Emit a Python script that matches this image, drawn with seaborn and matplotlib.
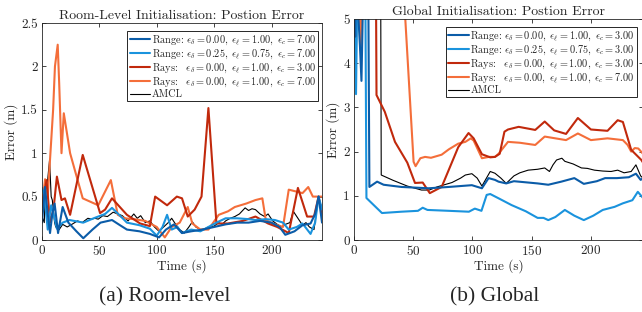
import numpy as np
import pandas as pd
import seaborn as sns
import matplotlib
matplotlib.use("Agg")
import matplotlib.pyplot as plt
from matplotlib.ticker import FuncFormatter

# ---- data -----------------------------------------------------------------
# (a) room-level initialisation
room_range1_t = [0, 2.6, 5, 7, 9, 11, 14, 18, 23, 30,
                 36, 44, 51, 61, 68, 74, 85, 94, 102, 108,
                 115, 122, 130, 140, 150, 160, 170, 180, 190, 200,
                 207, 212, 220, 227, 234, 238, 241, 244]
room_range1_e = [0.2, 0.61, 0.3, 0.08, 0.3, 0.42, 0.08, 0.38, 0.2, 0.1,
                 0.02, 0.12, 0.2, 0.23, 0.17, 0.12, 0.1, 0.07, 0.03, 0.12,
                 0.18, 0.08, 0.1, 0.12, 0.15, 0.18, 0.2, 0.2, 0.22, 0.2,
                 0.15, 0.06, 0.1, 0.17, 0.19, 0.3, 0.5, 0.2]

room_range2_t = [0, 2, 5, 8, 10, 13, 18, 24, 36, 45,
                 55, 61, 68, 74, 85, 94, 100, 105, 109, 113,
                 118, 122, 130, 138, 145, 152, 160, 170, 180, 186,
                 195, 203, 210, 215, 222, 227, 234, 238, 241, 244]
room_range2_e = [0.6, 0.53, 0.12, 0.4, 0.3, 0.13, 0.2, 0.23, 0.2, 0.25,
                 0.3, 0.37, 0.28, 0.2, 0.17, 0.13, 0.05, 0.15, 0.29, 0.12,
                 0.15, 0.08, 0.12, 0.1, 0.15, 0.2, 0.25, 0.25, 0.24, 0.23,
                 0.24, 0.23, 0.2, 0.12, 0.15, 0.19, 0.07, 0.2, 0.5, 0.35]

room_rays3_t = [0, 4, 7, 10, 13, 17, 20, 24.5, 35.5, 50.6,
                55, 61, 74, 85.5, 94, 98.6, 109, 117.5, 122, 127,
                133, 139, 145, 152, 162, 175, 186, 197, 205, 215,
                223, 231, 237, 241, 244]
room_rays3_e = [0.38, 0.69, 0.2, 0.35, 0.73, 0.46, 0.48, 0.29, 0.98, 0.31,
                0.35, 0.48, 0.29, 0.19, 0.16, 0.5, 0.4, 0.5, 0.48, 0.27,
                0.35, 0.5, 1.52, 0.19, 0.19, 0.22, 0.27, 0.19, 0.15, 0.08,
                0.6, 0.27, 0.27, 0.5, 0.3]

room_rays7_t = [0, 2.7, 5, 9.7, 11.3, 13.7, 15, 17, 19, 24.5,
                35.5, 49, 60, 66, 72, 80, 90, 100, 107, 113,
                120, 127, 131, 138, 145, 154, 162, 168, 178, 186,
                192, 195, 201, 210, 215, 227, 232, 236, 244]
room_rays7_e = [0.4, 0.7, 0.5, 1.5, 2.0, 2.25, 1.8, 1.0, 1.46, 1.0,
                0.48, 0.4, 0.69, 0.29, 0.25, 0.24, 0.22, 0.15, 0.03, 0.15,
                0.2, 0.38, 0.19, 0.12, 0.12, 0.29, 0.33, 0.38, 0.42, 0.46,
                0.48, 0.23, 0.19, 0.15, 0.58, 0.54, 0.61, 0.5, 0.5]

room_amcl_t = [0, 2, 3, 5, 6.6, 8, 9, 11, 12, 15,
               18, 22, 26, 31, 35, 40, 43, 46, 49, 53,
               57, 62, 66, 70, 75, 80, 83, 86, 90, 94,
               98, 102, 106, 110, 113, 116, 120, 124, 128, 131,
               134, 138, 142, 145, 150, 154, 157, 160, 164, 168,
               172, 177, 180, 183, 186, 190, 194, 197, 201, 205,
               209, 212, 216, 219, 223, 227, 230, 233, 237, 241,
               244]
room_amcl_e = [0.27, 0.2, 0.6, 0.7, 0.92, 0.5, 0.46, 0.2, 0.15, 0.12,
               0.18, 0.15, 0.18, 0.22, 0.2, 0.25, 0.24, 0.25, 0.24, 0.28,
               0.27, 0.32, 0.3, 0.28, 0.22, 0.3, 0.25, 0.28, 0.2, 0.22,
               0.15, 0.1, 0.15, 0.2, 0.25, 0.19, 0.12, 0.08, 0.15, 0.21,
               0.15, 0.12, 0.13, 0.15, 0.16, 0.2, 0.18, 0.22, 0.25, 0.27,
               0.3, 0.37, 0.34, 0.36, 0.35, 0.3, 0.27, 0.3, 0.22, 0.18,
               0.15, 0.18, 0.2, 0.33, 0.25, 0.17, 0.2, 0.15, 0.12, 0.5,
               0.35]

# (b) global initialisation (values above 5 are clipped by the axis)
glob_range1_t = [0, 1, 2, 3, 5, 6.3, 8, 12, 13, 19.5,
                 25, 40, 63, 80, 99.5, 108, 113.6, 119, 122, 128.5,
                 135, 147, 155, 164, 175, 186, 194, 205, 212, 222,
                 232, 238, 242, 244]
glob_range1_e = [6, 4.6, 6, 5.4, 4.4, 3.6, 6, 6, 1.2, 1.32,
                 1.25, 1.2, 1.17, 1.2, 1.24, 1.17, 1.4, 1.36, 1.32, 1.28,
                 1.33, 1.3, 1.28, 1.25, 1.32, 1.4, 1.27, 1.33, 1.4, 1.4,
                 1.42, 1.5, 1.36, 1.4]

glob_range2_t = [0, 1.7, 3, 9.5, 10.5, 23.6, 40, 54, 58, 62,
                 80, 97, 102, 107.6, 112, 115, 123, 133, 145, 155,
                 160, 164, 170, 178, 186, 194, 202, 210, 220, 227,
                 235, 239.6, 244]
glob_range2_e = [6, 3.3, 6, 6, 0.95, 0.61, 0.64, 0.66, 0.73, 0.68,
                 0.66, 0.64, 0.71, 0.66, 1.02, 1.04, 0.93, 0.79, 0.65, 0.5,
                 0.5, 0.45, 0.52, 0.68, 0.55, 0.45, 0.55, 0.68, 0.75, 0.83,
                 0.9, 1.09, 0.95]

glob_rays3_t = [0, 18.5, 19, 26, 34.6, 45, 51.5, 58, 64, 74,
                88, 96.7, 101, 108, 115, 119, 123, 127, 130, 139,
                153, 161, 169, 179, 189, 200, 214, 222.6, 227, 234,
                242.6, 244]
glob_rays3_e = [6, 6, 3.28, 2.9, 2.22, 1.75, 1.29, 1.3, 1.06, 1.2,
                2.1, 2.42, 2.3, 1.94, 1.87, 1.88, 1.95, 2.45, 2.5, 2.56,
                2.49, 2.68, 2.48, 2.4, 2.76, 2.5, 2.47, 2.71, 2.67, 2.04,
                1.81, 1.75]

glob_rays7_t = [0, 4, 5.5, 7, 42.5, 43.3, 50.3, 52, 56, 60,
                65, 74, 80, 88, 94, 98.6, 101, 108, 114, 119,
                122, 130, 140, 153, 161, 170, 179, 189, 200, 214,
                227, 231, 234, 237, 240, 244]
glob_rays7_e = [6, 6, 4.3, 6, 6, 5.0, 1.77, 1.67, 1.85, 1.88,
                1.86, 1.93, 2.05, 2.18, 2.22, 2.3, 2.25, 1.85, 1.88, 1.88,
                1.95, 2.22, 2.2, 2.15, 2.34, 2.3, 2.26, 2.41, 2.26, 2.3,
                2.26, 2.15, 2.0, 2.08, 2.07, 1.95]

glob_amcl_t = [0, 2, 3, 22.5, 23, 33, 45, 57, 63.5, 70,
               82.7, 90, 94, 99.5, 104, 108, 115, 119, 124, 128.5,
               135, 140, 147, 155, 161, 165, 168, 171, 175.5, 178,
               185, 192, 197, 203, 210, 217, 222.6, 228, 234, 238,
               242, 244]
glob_amcl_e = [6, 4.25, 6, 6, 1.47, 1.35, 1.22, 1.13, 1.13, 1.2,
               1.3, 1.4, 1.47, 1.5, 1.4, 1.22, 1.55, 1.51, 1.4, 1.28,
               1.45, 1.52, 1.58, 1.6, 1.63, 1.55, 1.7, 1.81, 1.85, 1.78,
               1.72, 1.63, 1.62, 1.58, 1.56, 1.55, 1.58, 1.52, 1.55, 1.7,
               1.45, 1.4]

room_labels = [r"Range: $\epsilon_\delta=0.00,\ \epsilon_\ell=1.00,\ \epsilon_c=7.00$",
               r"Range: $\epsilon_\delta=0.25,\ \epsilon_\ell=0.75,\ \epsilon_c=7.00$",
               r"Rays:$\quad\epsilon_\delta=0.00,\ \epsilon_\ell=1.00,\ \epsilon_c=3.00$",
               r"Rays:$\quad\epsilon_\delta=0.00,\ \epsilon_\ell=1.00,\ \epsilon_c=7.00$",
               "AMCL"]
glob_labels = [r"Range: $\epsilon_\delta=0.00,\ \epsilon_\ell=1.00,\ \epsilon_c=3.00$",
               r"Range: $\epsilon_\delta=0.25,\ \epsilon_\ell=0.75,\ \epsilon_c=3.00$",
               r"Rays:$\quad\epsilon_\delta=0.00,\ \epsilon_\ell=1.00,\ \epsilon_c=3.00$",
               r"Rays:$\quad\epsilon_\delta=0.00,\ \epsilon_\ell=1.00,\ \epsilon_c=7.00$",
               "AMCL"]

colors = ["#0b5ca8", "#1a93dd", "#c1290c", "#f46e3a", "black"]
widths = [1.5, 1.5, 1.5, 1.5, 0.8]

# ---- style ----------------------------------------------------------------
sns.set_style("ticks")
plt.rcParams.update({
    "font.family": "cmr10",
    "mathtext.fontset": "cm",
    "axes.formatter.use_mathtext": True,
    "axes.edgecolor": "#262626",
    "axes.linewidth": 0.6,
    "xtick.direction": "in",
    "ytick.direction": "in",
    "xtick.top": True,
    "ytick.right": True,
    "xtick.color": "#262626",
    "ytick.color": "#262626",
    "xtick.major.size": 3,
    "ytick.major.size": 3,
    "xtick.major.width": 0.6,
    "ytick.major.width": 0.6,
})

fig = plt.figure(figsize=(6.42, 3.12), dpi=100)
ax_a = fig.add_axes([0.0654, 0.2308, 0.4362, 0.6955])
ax_b = fig.add_axes([0.5514, 0.2308, 0.4502, 0.7083])

room = [(room_range1_t, room_range1_e), (room_range2_t, room_range2_e),
        (room_rays3_t, room_rays3_e), (room_rays7_t, room_rays7_e),
        (room_amcl_t, room_amcl_e)]
glob = [(glob_range1_t, glob_range1_e), (glob_range2_t, glob_range2_e),
        (glob_rays3_t, glob_rays3_e), (glob_rays7_t, glob_rays7_e),
        (glob_amcl_t, glob_amcl_e)]

fmt = FuncFormatter(lambda v, p: "%g" % v)

for ax, series, labels, ymax, title, anchor in [
        (ax_a, room, room_labels, 2.5, "Room-Level Initialisation: Postion Error", (0.986, 0.963)),
        (ax_b, glob, glob_labels, 5, "Global Initialisation: Postion Error", (0.979, 0.964))]:
    # draw in reverse so blue ends up on top like the reference
    for (t, e), lab, c, w in reversed(list(zip(series, labels, colors, widths))):
        df = pd.DataFrame({"Time": t, "Error": e})
        sns.lineplot(data=df, x="Time", y="Error", ax=ax, color=c, lw=w,
                     label=lab, estimator=None, sort=False)
    ax.set_xlim(0, 244)
    ax.set_ylim(0, ymax)
    ax.set_xticks([0, 50, 100, 150, 200])
    ax.yaxis.set_major_formatter(fmt)
    ax.tick_params(labelsize=9.5, pad=3)
    ax.set_xlabel("Time (s)", fontsize=9.5, labelpad=1)
    ax.set_ylabel("Error (m)", fontsize=9.5, labelpad=2)
    ax.set_title(title, fontsize=10, pad=3)
    h, l = ax.get_legend_handles_labels()
    leg = ax.legend(h[::-1], l[::-1], loc="upper right", bbox_to_anchor=anchor,
                    fontsize=7.4, frameon=True, fancybox=False, framealpha=1,
                    edgecolor="#262626", borderpad=0.2, labelspacing=0.05,
                    handlelength=2.0, handletextpad=0.15, borderaxespad=0)
    leg.get_frame().set_linewidth(0.7)

fig.text(0.257, 0.035, "(a) Room-level", fontsize=15.5, ha="center",
         va="baseline", family=["Liberation Serif", "DejaVu Serif"])
fig.text(0.771, 0.035, "(b) Global", fontsize=15.5, ha="center",
         va="baseline", family=["Liberation Serif", "DejaVu Serif"])

fig.savefig("out.png", dpi=100)
